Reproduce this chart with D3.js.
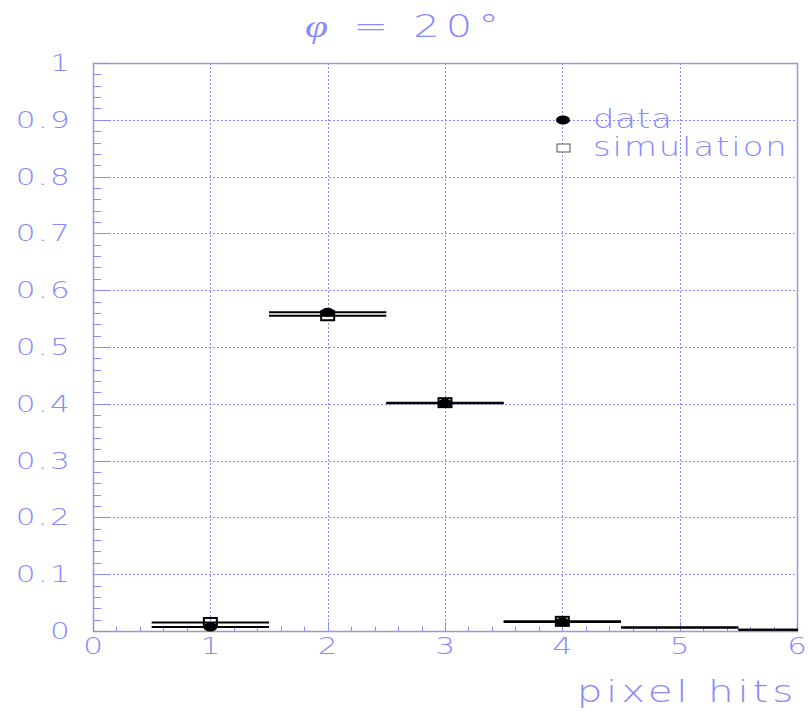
<!DOCTYPE html>
<html>
<head>
<meta charset="utf-8">
<script src="https://cdn.jsdelivr.net/npm/d3@7"></script>
<style>
  body { margin: 0; background: #fff; }
  text { font-family: "DejaVu Sans", sans-serif; font-weight: 200; fill: #8a8aff; }
</style>
</head>
<body>
<svg id="chart" width="808" height="711"></svg>
<script>
// bin centres (pixel hits), each bin is 1 wide
const bins = [1, 2, 3, 4, 5, 6];
const dataValues = [0.007, 0.561, 0.401, 0.016, 0.006, 0.002];
const simValues = [0.015, 0.555, 0.402, 0.017, 0.006, 0.002];
const xTicks = [0, 1, 2, 3, 4, 5, 6];
const yTicks = [0, 0.1, 0.2, 0.3, 0.4, 0.5, 0.6, 0.7, 0.8, 0.9, 1];
const yTickLabels = ["0", "0.1", "0.2", "0.3", "0.4", "0.5", "0.6", "0.7", "0.8", "0.9", "1"];

const svg = d3.select("#chart");
const mLeft = 93, mRight = 797, mTop = 63, mBottom = 631;
const blue = "#8a8aff";
const stretch = 1.35; // PAW-style wide glyphs

const x = d3.scaleLinear().domain([0, 6]).range([mLeft, mRight]);
const y = d3.scaleLinear().domain([0, 1]).range([mBottom, mTop]);

svg.append("clipPath").attr("id", "plotclip")
  .append("rect").attr("x", mLeft).attr("y", mTop)
  .attr("width", mRight - mLeft + 1).attr("height", mBottom - mTop + 1);

// grid
const grid = svg.append("g")
  .attr("stroke", blue)
  .attr("stroke-width", 1)
  .attr("stroke-dasharray", "2,2");
grid.selectAll(".gx").data(xTicks.slice(1, -1)).join("line")
  .attr("x1", d => Math.round(x(d)) + 0.5).attr("x2", d => Math.round(x(d)) + 0.5)
  .attr("y1", mTop).attr("y2", mBottom);
grid.selectAll(".gy").data(yTicks.slice(1, -1)).join("line")
  .attr("x1", mLeft).attr("x2", mRight)
  .attr("y1", d => Math.round(y(d)) + 0.5).attr("y2", d => Math.round(y(d)) + 0.5);

// frame
svg.append("rect")
  .attr("x", mLeft + 0.5).attr("y", mTop + 0.5)
  .attr("width", mRight - mLeft).attr("height", mBottom - mTop)
  .attr("fill", "none").attr("stroke", "#9a9acc").attr("stroke-width", 1.5);

// minor + major ticks
const ticks = svg.append("g").attr("stroke", blue).attr("stroke-width", 1);
const yMinor = d3.range(0, 1.0001, 0.02);
ticks.selectAll(".ty").data(yMinor).join("line")
  .attr("x1", mLeft).attr("x2", (d, i) => mLeft + (i % 5 === 0 ? 16 : 8))
  .attr("y1", d => Math.round(y(d)) + 0.5).attr("y2", d => Math.round(y(d)) + 0.5);
const xMinor = d3.range(0, 6.0001, 0.2);
ticks.selectAll(".tx").data(xMinor).join("line")
  .attr("x1", d => Math.round(x(d)) + 0.5).attr("x2", d => Math.round(x(d)) + 0.5)
  .attr("y1", mBottom).attr("y2", (d, i) => mBottom - (i % 5 === 0 ? 9 : 4.5));

// tick labels
svg.selectAll(".yl").data(yTicks).join("text")
  .attr("transform", d => `translate(72,${y(d) + 8}) scale(${stretch},1)`)
  .attr("text-anchor", "end")
  .attr("font-size", 23).attr("letter-spacing", 1.7)
  .text((d, i) => yTickLabels[i]);
svg.selectAll(".xl").data(xTicks).join("text")
  .attr("transform", d => `translate(${x(d)},654) scale(${stretch},1)`)
  .attr("text-anchor", "middle")
  .attr("font-size", 23)
  .text(d => d);

// axis title and plot title
svg.append("text")
  .attr("transform", `translate(797,702) scale(${stretch},1)`)
  .attr("text-anchor", "end")
  .attr("font-size", 30).attr("letter-spacing", 2.8)
  .text("pixel hits");
const title = svg.append("text")
  .attr("transform", "translate(305,37) scale(1.3,1)")
  .attr("font-size", 32).attr("letter-spacing", 4.6);
title.append("tspan").attr("font-style", "italic").attr("font-family", "Liberation Serif").attr("font-weight", 400).text("φ");
title.append("tspan").text(" = 20°");

// horizontal bin-width error bars
const marks = svg.append("g").attr("clip-path", "url(#plotclip)");
marks.selectAll(".simbar").data(bins).join("line")
  .attr("x1", d => x(d - 0.5)).attr("x2", d => x(d + 0.5))
  .attr("y1", (d, i) => y(simValues[i])).attr("y2", (d, i) => y(simValues[i]))
  .attr("stroke", "#000").attr("stroke-width", 2);
marks.selectAll(".databar").data(bins).join("line")
  .attr("x1", d => x(d - 0.5)).attr("x2", d => x(d + 0.5))
  .attr("y1", (d, i) => y(dataValues[i])).attr("y2", (d, i) => y(dataValues[i]))
  .attr("stroke", "#000").attr("stroke-width", 2);

// markers (only first four bins carry visible markers)
const markBins = bins.slice(0, 4);
marks.selectAll(".dm").data(markBins).join("ellipse")
  .attr("cx", d => x(d)).attr("cy", (d, i) => y(dataValues[i]))
  .attr("rx", 7).attr("ry", 4.5).attr("fill", "#000");
marks.selectAll(".sm").data(markBins).join("rect")
  .attr("x", d => x(d) - 6.5).attr("y", (d, i) => y(simValues[i]) - 4.5)
  .attr("width", 13).attr("height", 9)
  .attr("fill", "none").attr("stroke", "#000").attr("stroke-width", 2);

// legend
const lg = svg.append("g");
lg.append("ellipse").attr("cx", 563).attr("cy", 120).attr("rx", 7).attr("ry", 4.5).attr("fill", "#000");
lg.append("rect").attr("x", 557).attr("y", 144).attr("width", 13).attr("height", 8)
  .attr("fill", "#fff").attr("stroke", "#555").attr("stroke-width", 1);
lg.append("text").attr("transform", "translate(593,128) scale(1.3,1)")
  .attr("font-size", 26).attr("letter-spacing", 0.7).text("data");
lg.append("text").attr("transform", "translate(593,156) scale(1.3,1)")
  .attr("font-size", 26).attr("letter-spacing", 1.5).text("simulation");
</script>
</body>
</html>
